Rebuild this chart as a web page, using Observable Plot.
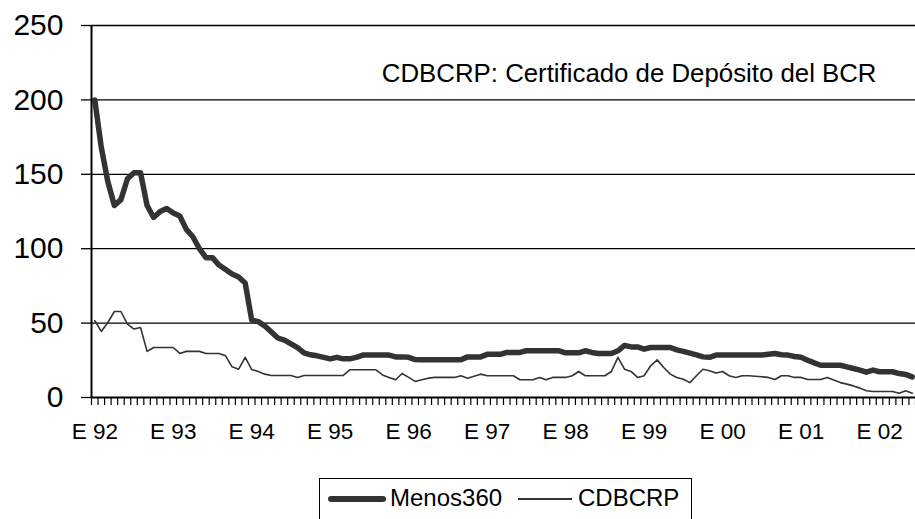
<!DOCTYPE html>
<html>
<head>
<meta charset="utf-8">
<script src="https://cdn.jsdelivr.net/npm/d3@7"></script>
<script src="https://cdn.jsdelivr.net/npm/@observablehq/plot@0.6"></script>
<style>
  html, body { margin: 0; padding: 0; background: #fff; }
  #wrap { position: relative; width: 915px; height: 519px; overflow: hidden; font-family: "Liberation Sans", Arial, sans-serif; }
  #legend { position: absolute; left: 319px; top: 478px; width: 373px; height: 50px; border: 1px solid #000; box-sizing: border-box; background: #fff; }
  #legend .sw { position: absolute; background: #333; }
  #legend .tx { position: absolute; font-size: 24px; line-height: 24px; color: #000; white-space: nowrap; }
</style>
</head>
<body>
<div id="wrap">
  <div id="chart"></div>
  <div id="legend">
    <div class="sw" style="left:8px; top:17px; width:58px; height:6px; border-radius:3px;"></div>
    <div class="tx" style="left:70px; top:7px;" id="l1"></div>
    <div class="sw" style="left:198px; top:19px; width:54px; height:1.5px;"></div>
    <div class="tx" style="left:258px; top:7px;" id="l2"></div>
  </div>
</div>
<script>
const seriesNames = ["Menos360", "CDBCRP"];
const yearLabels = ["E 92","E 93","E 94","E 95","E 96","E 97","E 98","E 99","E 00","E 01","E 02"];
const yTicks = [0, 50, 100, 150, 200, 250];
const note = "CDBCRP: Certificado de Depósito del BCR";

// Monthly values, Jan 1992 - Jun 2002
const menos360 = [
  200,168,145,129,133,147,151,151,129,121,125,127,
  124,122,113,108,100,94,94,89,86,83,81,77,
  52,51,48,44,40,38.5,36,33.5,30,28.7,28,27,
  26,27,26,26,27,28.5,28.5,28.5,28.5,28.5,27.3,27.3,
  27,25.5,25.3,25.3,25.3,25.3,25.3,25.3,25.3,27.3,27.3,27.3,
  29,29,29,30.3,30.3,30.3,31.4,31.4,31.4,31.4,31.4,31.4,
  30,30,30,31.4,30.3,29.6,29.6,29.6,31.4,35,34,34,
  32.5,33.6,33.6,33.6,33.6,32,31,29.8,28.7,27.3,27,28.5,
  28.5,28.5,28.5,28.5,28.5,28.5,28.5,29.1,29.6,28.7,28.5,27.6,
  27,25.1,23.3,21.7,21.7,21.7,21.7,20.6,19.5,18.4,17,18.4,
  17.3,17.3,17.3,16.1,15.5,13.9
];
const cdbcrp = [
  51.6,44.4,50.4,57.8,57.8,49.3,46,47,31,33.6,33.6,33.6,
  33.6,29.6,31,31,31,29.6,29.6,29.6,28,20.6,19,27,
  18.8,17.5,15.7,14.8,14.8,14.8,14.8,13.5,14.8,14.8,14.8,14.8,
  14.8,14.8,14.8,18.6,18.6,18.6,18.6,18.6,15.2,13.5,11.9,16.1,
  13.5,10.8,11.9,13,13.5,13.5,13.5,13.5,14.6,13,14.3,15.7,
  14.6,14.6,14.6,14.6,14.6,11.9,11.9,11.9,13.5,11.9,13.5,13.5,
  13.5,14.6,17.5,14.6,14.6,14.6,14.6,17.5,27,19,17.5,13.5,
  14.6,21.3,25.3,20.2,15.7,13.5,12.3,10,14.6,19,18,16.4,
  17.5,14.6,13.5,14.6,14.6,14.3,13.9,13.5,12.1,14.6,14.6,13.5,
  13.5,12.1,12.1,12.1,13.5,11.7,10,9,7.8,6.3,4.5,4,
  4,4,4,2.9,4.5,2.9
];

const n = menos360.length;
const data = d3.range(n).map(i => ({i, m: menos360[i], c: cdbcrp[i]}));
const boundaries = d3.range(n + 1).map(k => k - 0.5);
const labelIdx = yearLabels.map((_, k) => k * 12);

const chart = Plot.plot({
  width: 915,
  height: 470,
  marginLeft: 91,
  marginRight: 0,
  marginTop: 25,
  marginBottom: 73,
  x: {domain: [-0.5, n - 0.5], axis: null},
  y: {domain: [0, 250], axis: null},
  style: {fontFamily: "'Liberation Sans', Arial, sans-serif", color: "#000", background: "#fff", overflow: "visible"},
  marks: [
    Plot.ruleY(yTicks.slice(1), {stroke: "#000", strokeWidth: 1.3}),
    Plot.axisY({ticks: yTicks, tickSize: 10, tickPadding: 18, fontSize: 30, label: null, strokeWidth: 1.3}),
    Plot.axisX({ticks: boundaries, tickSize: 8, tickFormat: () => "", label: null, strokeWidth: 1.2}),
    Plot.axisX({ticks: labelIdx, tickSize: 0, tickPadding: 26, fontSize: 22.5, label: null,
      tickFormat: d => yearLabels[Math.round(d / 12)]}),
    Plot.line(data, {x: "i", y: "c", stroke: "#333", strokeWidth: 1.6}),
    Plot.line(data, {x: "i", y: "m", stroke: "#333", strokeWidth: 5.5, strokeLinejoin: "round", strokeLinecap: "round"}),
    Plot.ruleY([0], {stroke: "#000", strokeWidth: 2}),
    Plot.ruleX([-0.5], {stroke: "#000", strokeWidth: 2}),
    Plot.text([note], {text: d => d, frameAnchor: "top-right", textAnchor: "end", dx: -39, dy: 38, fontSize: 25.8, fill: "#000"})
  ]
});
document.getElementById("chart").appendChild(chart);
document.getElementById("l1").textContent = seriesNames[0];
document.getElementById("l2").textContent = seriesNames[1];
</script>
</body>
</html>
